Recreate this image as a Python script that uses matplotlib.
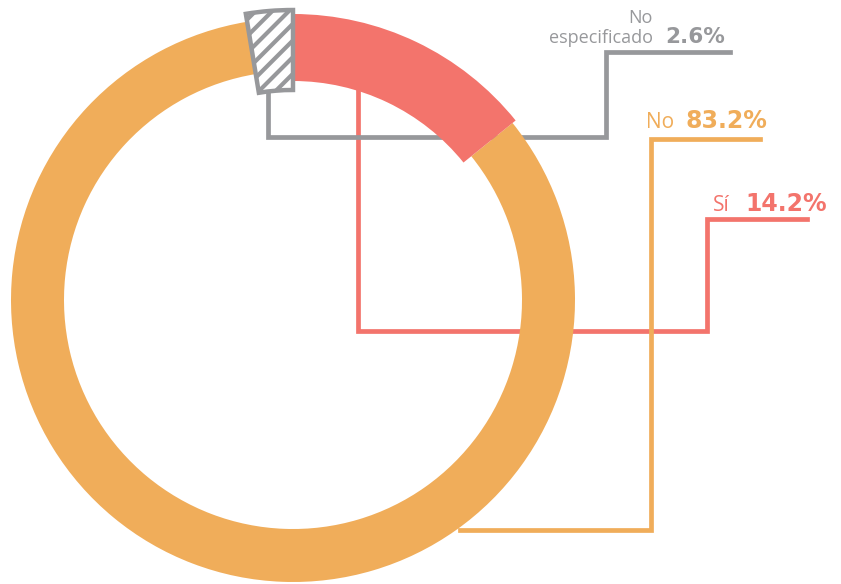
import matplotlib
matplotlib.use("Agg")
import matplotlib.pyplot as plt

# datos
labels = ["Sí", "No", "No\nespecificado"]
values = [14.2, 83.2, 2.6]
pct_labels = ["14.2%", "83.2%", "2.6%"]
colors = ["#F3746C", "#F0AD5A", "#97989B"]

H = 584
plt.rcParams["hatch.linewidth"] = 3.0

fig = plt.figure(figsize=(8.41, 5.84), dpi=100)
ax = fig.add_axes([0, 0, 1, 1])

cx, cy = 293, H - 300
wedges, _ = ax.pie(values, colors=colors, startangle=90, counterclock=False,
                   radius=282, center=(cx, cy),
                   wedgeprops=dict(width=53, linewidth=0), frame=True)
for w in wedges:
    w.set_zorder(3)

# Sí, un poco más grande
wedges[0].set_radius(286)
wedges[0].set_width(67)
wedges[0].set_zorder(4)

# No especificado: rayado
wedges[2].set_radius(290)
wedges[2].set_width(80)
wedges[2].set_facecolor("white")
wedges[2].set_edgecolor(colors[2])
wedges[2].set_linewidth(3.2)
wedges[2].set_hatch("//")
wedges[2].set_zorder(5)

# líneas guía (coordenadas en pixeles, y desde arriba)
guides = [
    [(358, 80), (358, 331), (707, 331), (707, 219), (807, 219)],
    [(460, 530), (651, 530), (651, 139), (760, 139)],
    [(268, 90), (268, 137), (606, 137), (606, 52), (730, 52)],
]
for pts, c in zip(guides, colors):
    xs = [p[0] for p in pts]
    ys = [H - p[1] for p in pts]
    ax.plot(xs, ys, color=c, lw=3.4, solid_joinstyle="miter", zorder=1)

light = dict(family=["Open Sans", "DejaVu Sans"], weight="normal")
bold = dict(family=["DejaVu Sans"], weight="bold")

# Sí
ax.text(713, H - 211, labels[0], color=colors[0], fontsize=15, va="baseline", **light)
ax.text(745, H - 211, pct_labels[0], color=colors[0], fontsize=17, va="baseline", **bold)
# No
ax.text(646, H - 128, labels[1], color=colors[1], fontsize=15, va="baseline", **light)
ax.text(686, H - 128, pct_labels[1], color=colors[1], fontsize=17, va="baseline", **bold)
# No especificado
ax.text(653, H - 43, labels[2], color=colors[2], fontsize=13, va="baseline",
        ha="right", multialignment="right", linespacing=1.15, **light)
ax.text(665, H - 43, pct_labels[2], color=colors[2], fontsize=15.5, va="baseline", **bold)

ax.set_xlim(0, 841)
ax.set_ylim(0, H)
ax.set_aspect("equal")
ax.axis("off")

fig.savefig("out.png", dpi=100)
